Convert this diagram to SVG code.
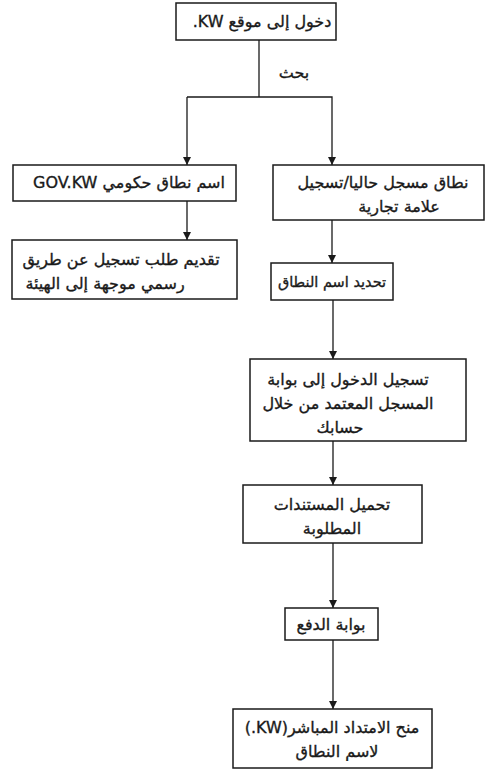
<svg xmlns="http://www.w3.org/2000/svg" width="486" height="771" viewBox="0 0 486 771">
<defs>
<marker id="arr" viewBox="0 0 10 10" refX="10" refY="5" markerWidth="8" markerHeight="9" markerUnits="userSpaceOnUse" orient="auto">
<path d="M0,0 L10,5 L0,10 Z" fill="#1a1a1a"/>
</marker>
<style>
.box{fill:#fff;stroke:#1a1a1a;stroke-width:1.5}
.t{font-family:"DejaVu Sans","Noto Sans",sans-serif;font-size:16px;fill:#1a1a1a;stroke:#1a1a1a;stroke-width:0.35;text-anchor:middle;direction:rtl}
.s{font-size:14.5px}
.c{fill:none;stroke:#1a1a1a;stroke-width:1.3}
</style>
</defs>
<rect width="486" height="771" fill="#fff"/>
<g id="connectors">
<line class="c" x1="259" y1="40" x2="259" y2="97"/>
<polyline class="c" points="187,97 332,97 332,165" marker-end="url(#arr)"/>
<line class="c" x1="187" y1="97" x2="187" y2="165" marker-end="url(#arr)"/>
<line class="c" x1="187" y1="201" x2="187" y2="240" marker-end="url(#arr)"/>
<line class="c" x1="332" y1="220" x2="332" y2="263" marker-end="url(#arr)"/>
<line class="c" x1="333" y1="300" x2="333" y2="359" marker-end="url(#arr)"/>
<line class="c" x1="333" y1="441" x2="333" y2="485" marker-end="url(#arr)"/>
<line class="c" x1="333" y1="543" x2="333" y2="608" marker-end="url(#arr)"/>
<line class="c" x1="333" y1="640" x2="333" y2="709" marker-end="url(#arr)"/>
<text class="t" x="294" y="78">بحث</text>
</g>
<g id="n1"><rect class="box" x="176" y="3" width="160" height="37"/><text class="t" x="262" y="27">دخول إلى موقع KW.</text></g>
<g id="n2"><rect class="box" x="13" y="165" width="223" height="36"/><text class="t" x="129" y="188">اسم نطاق حكومي GOV.KW</text></g>
<g id="n3"><rect class="box" x="273" y="165" width="211" height="55"/><text class="t" x="383" y="188">نطاق مسجل حاليا/تسجيل</text><text class="t" x="399" y="212">علامة تجارية</text></g>
<g id="n4"><rect class="box" x="12" y="240" width="225" height="59"/><text class="t" x="121" y="265">تقديم طلب تسجيل عن طريق</text><text class="t" x="105" y="289">رسمي موجهة إلى الهيئة</text></g>
<g id="n5"><rect class="box" x="271" y="263" width="122" height="37"/><text class="t s" x="332" y="287">تحديد اسم النطاق</text></g>
<g id="n6"><rect class="box" x="250" y="359" width="216" height="82"/><text class="t" x="348" y="385">تسجيل الدخول إلى بوابة</text><text class="t" x="348" y="409">المسجل المعتمد من خلال</text><text class="t" x="340" y="433">حسابك</text></g>
<g id="n7"><rect class="box" x="243" y="485" width="179" height="58"/><text class="t" x="332" y="510">تحميل المستندات</text><text class="t" x="332" y="534">المطلوبة</text></g>
<g id="n8"><rect class="box" x="285" y="608" width="93" height="32"/><text class="t" x="331" y="630">بوابة الدفع</text></g>
<g id="n9"><rect class="box" x="233" y="709" width="199" height="59"/><text class="t" x="332" y="733">منح الامتداد المباشر(KW.)</text><text class="t" x="337" y="757">لاسم النطاق</text></g>
</svg>
